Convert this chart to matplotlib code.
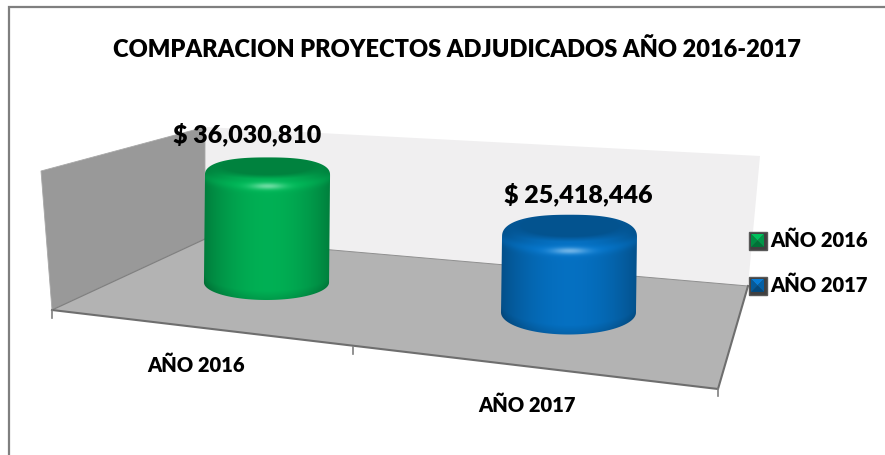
import numpy as np
import matplotlib
matplotlib.use("Agg")
import matplotlib.pyplot as plt
from matplotlib.patches import Polygon, PathPatch
from matplotlib.path import Path

# ---- data ----
title = "COMPARACION PROYECTOS ADJUDICADOS AÑO 2016-2017"
categories = ["AÑO 2016", "AÑO 2017"]
values = [36030810, 25418446]
value_labels = ["$ 36,030,810", "$ 25,418,446"]

# ---- style ----
colors = [(0.0, 0.69, 0.33), (0.02, 0.44, 0.76)]
plt.rcParams["font.family"] = ["Lato", "DejaVu Sans"]
WEIGHT = 800
W, H = 885, 456

fig = plt.figure(figsize=(W / 100, H / 100), dpi=100)
ax = fig.add_axes([0, 0, 1, 1])
ax.set_xlim(0, W)
ax.set_ylim(H, 0)
ax.axis("off")

# chart frame (open at right and bottom, as in the reference)
ax.plot([9, 9, W], [H, 7.5, 7.5], color="#7f7f7f", lw=1.6, zorder=1, solid_joinstyle="miter")

# 3-D box
ax.add_patch(Polygon([(205, 128), (760, 157), (748, 287), (205, 240)], fc="#f0eff0", ec="none", zorder=2))
ax.add_patch(Polygon([(41, 172), (205, 128), (205, 240), (52, 311)], fc="#999999", ec="#a8a8a8", lw=0.6, zorder=2))
ax.add_patch(Polygon([(52, 311), (205, 240), (748, 287), (718, 390)], fc="#b3b3b3", ec="none", zorder=3))
ax.plot([52, 205], [311, 240], color="#808080", lw=0.9, zorder=4)
ax.plot([205, 748], [240, 287], color="#8f8f8f", lw=0.7, zorder=4)
ax.plot([52, 718, 748], [311, 390, 287], color="#6e6e6e", lw=1.5, zorder=4)
for tx, ty in [(52, 311), (353, 347.5), (718, 390)]:
    ax.plot([tx, tx], [ty, ty + 7.5], color="#7f7f7f", lw=1.2, zorder=4)


def base_of(i):
    """Floor position and width of a category's cylinder."""
    return 267.5 + 302 * i, 283.5 + 30 * i, 63.5 + 5 * i, 17.5 + 4.5 * i


def top_of(i, v):
    """Value axis: pixels of height per unit of value."""
    return base_of(i)[1] - v * 3.0e-6


def draw_cylinder(i, v, rgb):
    cx, by, a, b = base_of(i)
    ty = top_of(i, v)
    x0, x1 = cx - a - 2, cx + a + 2
    y0, y1 = ty - b - 2, by + b + 2
    xs = np.arange(x0, x1, 0.5)
    ys = np.arange(y0, y1, 0.5)
    X, Y = np.meshgrid(xs, ys)
    u = (X - cx) / a
    # horizontal shading of the side
    shade = 0.70 + 0.30 * np.cos(np.clip(u, -1, 1) * np.pi / 2) ** 0.8
    # darker lower lip
    lip = np.clip((Y - (by + b * np.sqrt(np.clip(1 - u ** 2, 0, 1)) - 9)) / 9, 0, 1)
    shade = shade * (1 - 0.12 * lip)
    # rounded shoulder: lighter band below the front of the top face
    front = ty + 0.7 * b * np.sqrt(np.clip(1 - (u * 0.98) ** 2, 0, 1))
    shoulder = np.exp(-((Y - front) / 5.0) ** 2)
    shade = shade + 0.10 * shoulder
    # sharp highlight at centre of the shoulder
    glow = np.exp(-((X - cx) / (a * 0.26)) ** 2 - ((Y - (ty + b * 0.7)) / 3.2) ** 2)
    # dark inset top face
    d = np.sqrt(((X - cx) / (a * 0.88)) ** 2 + ((Y - (ty - 0.45 * b)) / (b * 0.62)) ** 2)
    mask = np.clip((1.2 - d) / 0.4, 0, 1)
    shade = shade * (1 - mask) + 0.74 * mask
    img = np.clip(np.asarray(rgb)[None, None, :] * shade[..., None], 0, 1)
    img = img + (1 - img) * (0.42 * glow)[..., None]
    im = ax.imshow(img, extent=[x0, x1, y1, y0], interpolation="bilinear", zorder=5, aspect="auto")
    # silhouette
    t1 = np.linspace(np.pi, 0, 60)
    top = np.c_[cx + a * np.sign(np.cos(t1)) * np.abs(np.cos(t1)) ** 0.8 * 0.985,
                ty - b * np.sin(t1) ** 0.85 + 0.5]
    t2 = np.linspace(0, np.pi, 60)
    bot = np.c_[cx + a * np.cos(t2) * 0.985 - 1, by + b * np.sin(t2)]
    verts = np.vstack([top, bot, top[:1]])
    clip = PathPatch(Path(verts), transform=ax.transData, fc="none", ec="none")
    ax.add_patch(clip)
    im.set_clip_path(clip)


for i, (v, c) in enumerate(zip(values, colors)):
    draw_cylinder(i, v, c)
ax.set_xlim(0, W)
ax.set_ylim(H, 0)

# texts
ax.text(456.5, 50, title, ha="center", va="center", fontsize=17, fontweight=WEIGHT, color="black", zorder=8)
lab_off = [-40.5, -42.5]
lab_dx = [-20.5, 8.5]
for i, (v, s) in enumerate(zip(values, value_labels)):
    ax.text(base_of(i)[0] + lab_dx[i], top_of(i, v) + lab_off[i], s, ha="center", va="center",
            fontsize=18, fontweight=WEIGHT, color="black", zorder=8)
for i, s in enumerate(categories):
    ax.text(196 + 331 * i, 365.5 + 40 * i, s, ha="center", va="center", fontsize=14.5, fontweight=WEIGHT, zorder=8)

# legend
for i, (s, c, ly) in enumerate(zip(categories, colors, [241.5, 286.5])):
    sz = 18
    lx0, ly0 = 748.5, ly - sz / 2
    ax.add_patch(Polygon([(lx0, ly0), (lx0 + sz, ly0), (lx0 + sz, ly0 + sz), (lx0, ly0 + sz)],
                         fc="#404040", ec="#595959", lw=1, zorder=8))
    cx_, cy_ = lx0 + sz / 2, ly0 + sz / 2
    p0, p1 = lx0 + 2.5, lx0 + sz - 2.5
    q0, q1 = ly0 + 2.5, ly0 + sz - 2.5
    shades = [1.1, 0.85, 0.65, 0.8]
    corners = [[(p0, q0), (p1, q0)], [(p1, q0), (p1, q1)], [(p1, q1), (p0, q1)], [(p0, q1), (p0, q0)]]
    for cr, sh in zip(corners, shades):
        ax.add_patch(Polygon(cr + [(cx_, cy_)], fc=tuple(min(1, k * sh) for k in c), ec="none", zorder=9))
    ax.text(770, ly - 1.5, s, ha="left", va="center", fontsize=14.5, fontweight=WEIGHT, zorder=8)

fig.savefig("out.png", dpi=100)
